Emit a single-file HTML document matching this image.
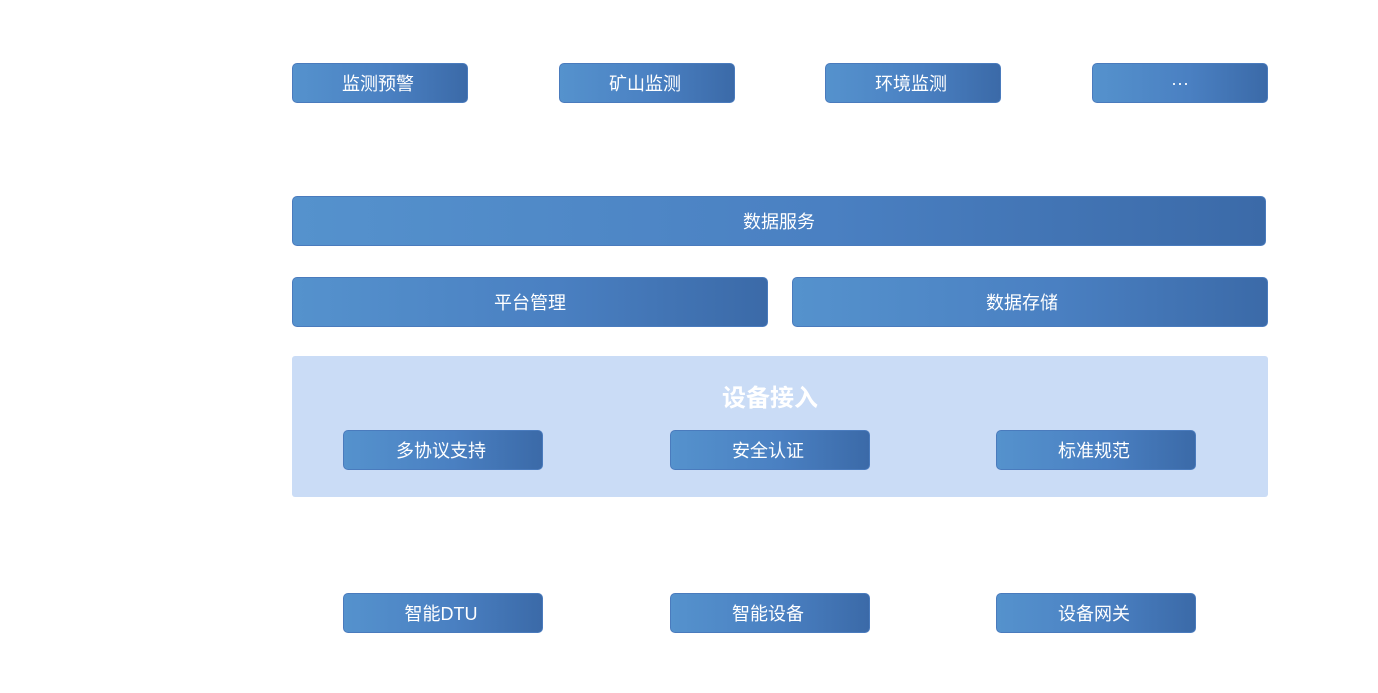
<!DOCTYPE html>
<html><head><meta charset="utf-8"><style>
body{margin:0;width:1378px;height:693px;background:#fff;position:relative;overflow:hidden;font-family:"Liberation Sans","Noto Sans CJK SC",sans-serif;}
.b{position:absolute;box-sizing:border-box;border:1px solid #4a7bbd;border-radius:5px;background:linear-gradient(90deg,#5592cd,#4a80c2 55%,#3b6aa8);color:#fff;font-size:18px;display:flex;align-items:center;justify-content:center;}
.p{position:absolute;left:292px;top:356px;width:976px;height:141px;background:#cadcf6;border-radius:3px;}
.t{position:absolute;left:282px;top:378px;width:976px;text-align:center;color:#fff;font-size:24px;font-weight:bold;}
</style></head><body>
<div class="b" style="left:292px;top:63px;width:176px;height:40px;padding-right:4px">监测预警</div>
<div class="b" style="left:559px;top:63px;width:176px;height:40px;padding-right:4px">矿山监测</div>
<div class="b" style="left:825px;top:63px;width:176px;height:40px;padding-right:4px">环境监测</div>
<div class="b" style="left:1092px;top:63px;width:176px;height:40px">···</div>
<div class="b" style="left:292px;top:196px;width:974px;height:50px">数据服务</div>
<div class="b" style="left:292px;top:277px;width:476px;height:50px">平台管理</div>
<div class="b" style="left:792px;top:277px;width:476px;height:50px;padding-right:16px">数据存储</div>
<div class="p"></div>
<div class="t">设备接入</div>
<div class="b" style="left:343px;top:430px;width:200px;height:40px;padding-right:4px">多协议支持</div>
<div class="b" style="left:670px;top:430px;width:200px;height:40px;padding-right:4px">安全认证</div>
<div class="b" style="left:996px;top:430px;width:200px;height:40px;padding-right:4px">标准规范</div>
<div class="b" style="left:343px;top:593px;width:200px;height:40px;padding-right:4px">智能DTU</div>
<div class="b" style="left:670px;top:593px;width:200px;height:40px;padding-right:4px">智能设备</div>
<div class="b" style="left:996px;top:593px;width:200px;height:40px;padding-right:4px">设备网关</div>
</body></html>
